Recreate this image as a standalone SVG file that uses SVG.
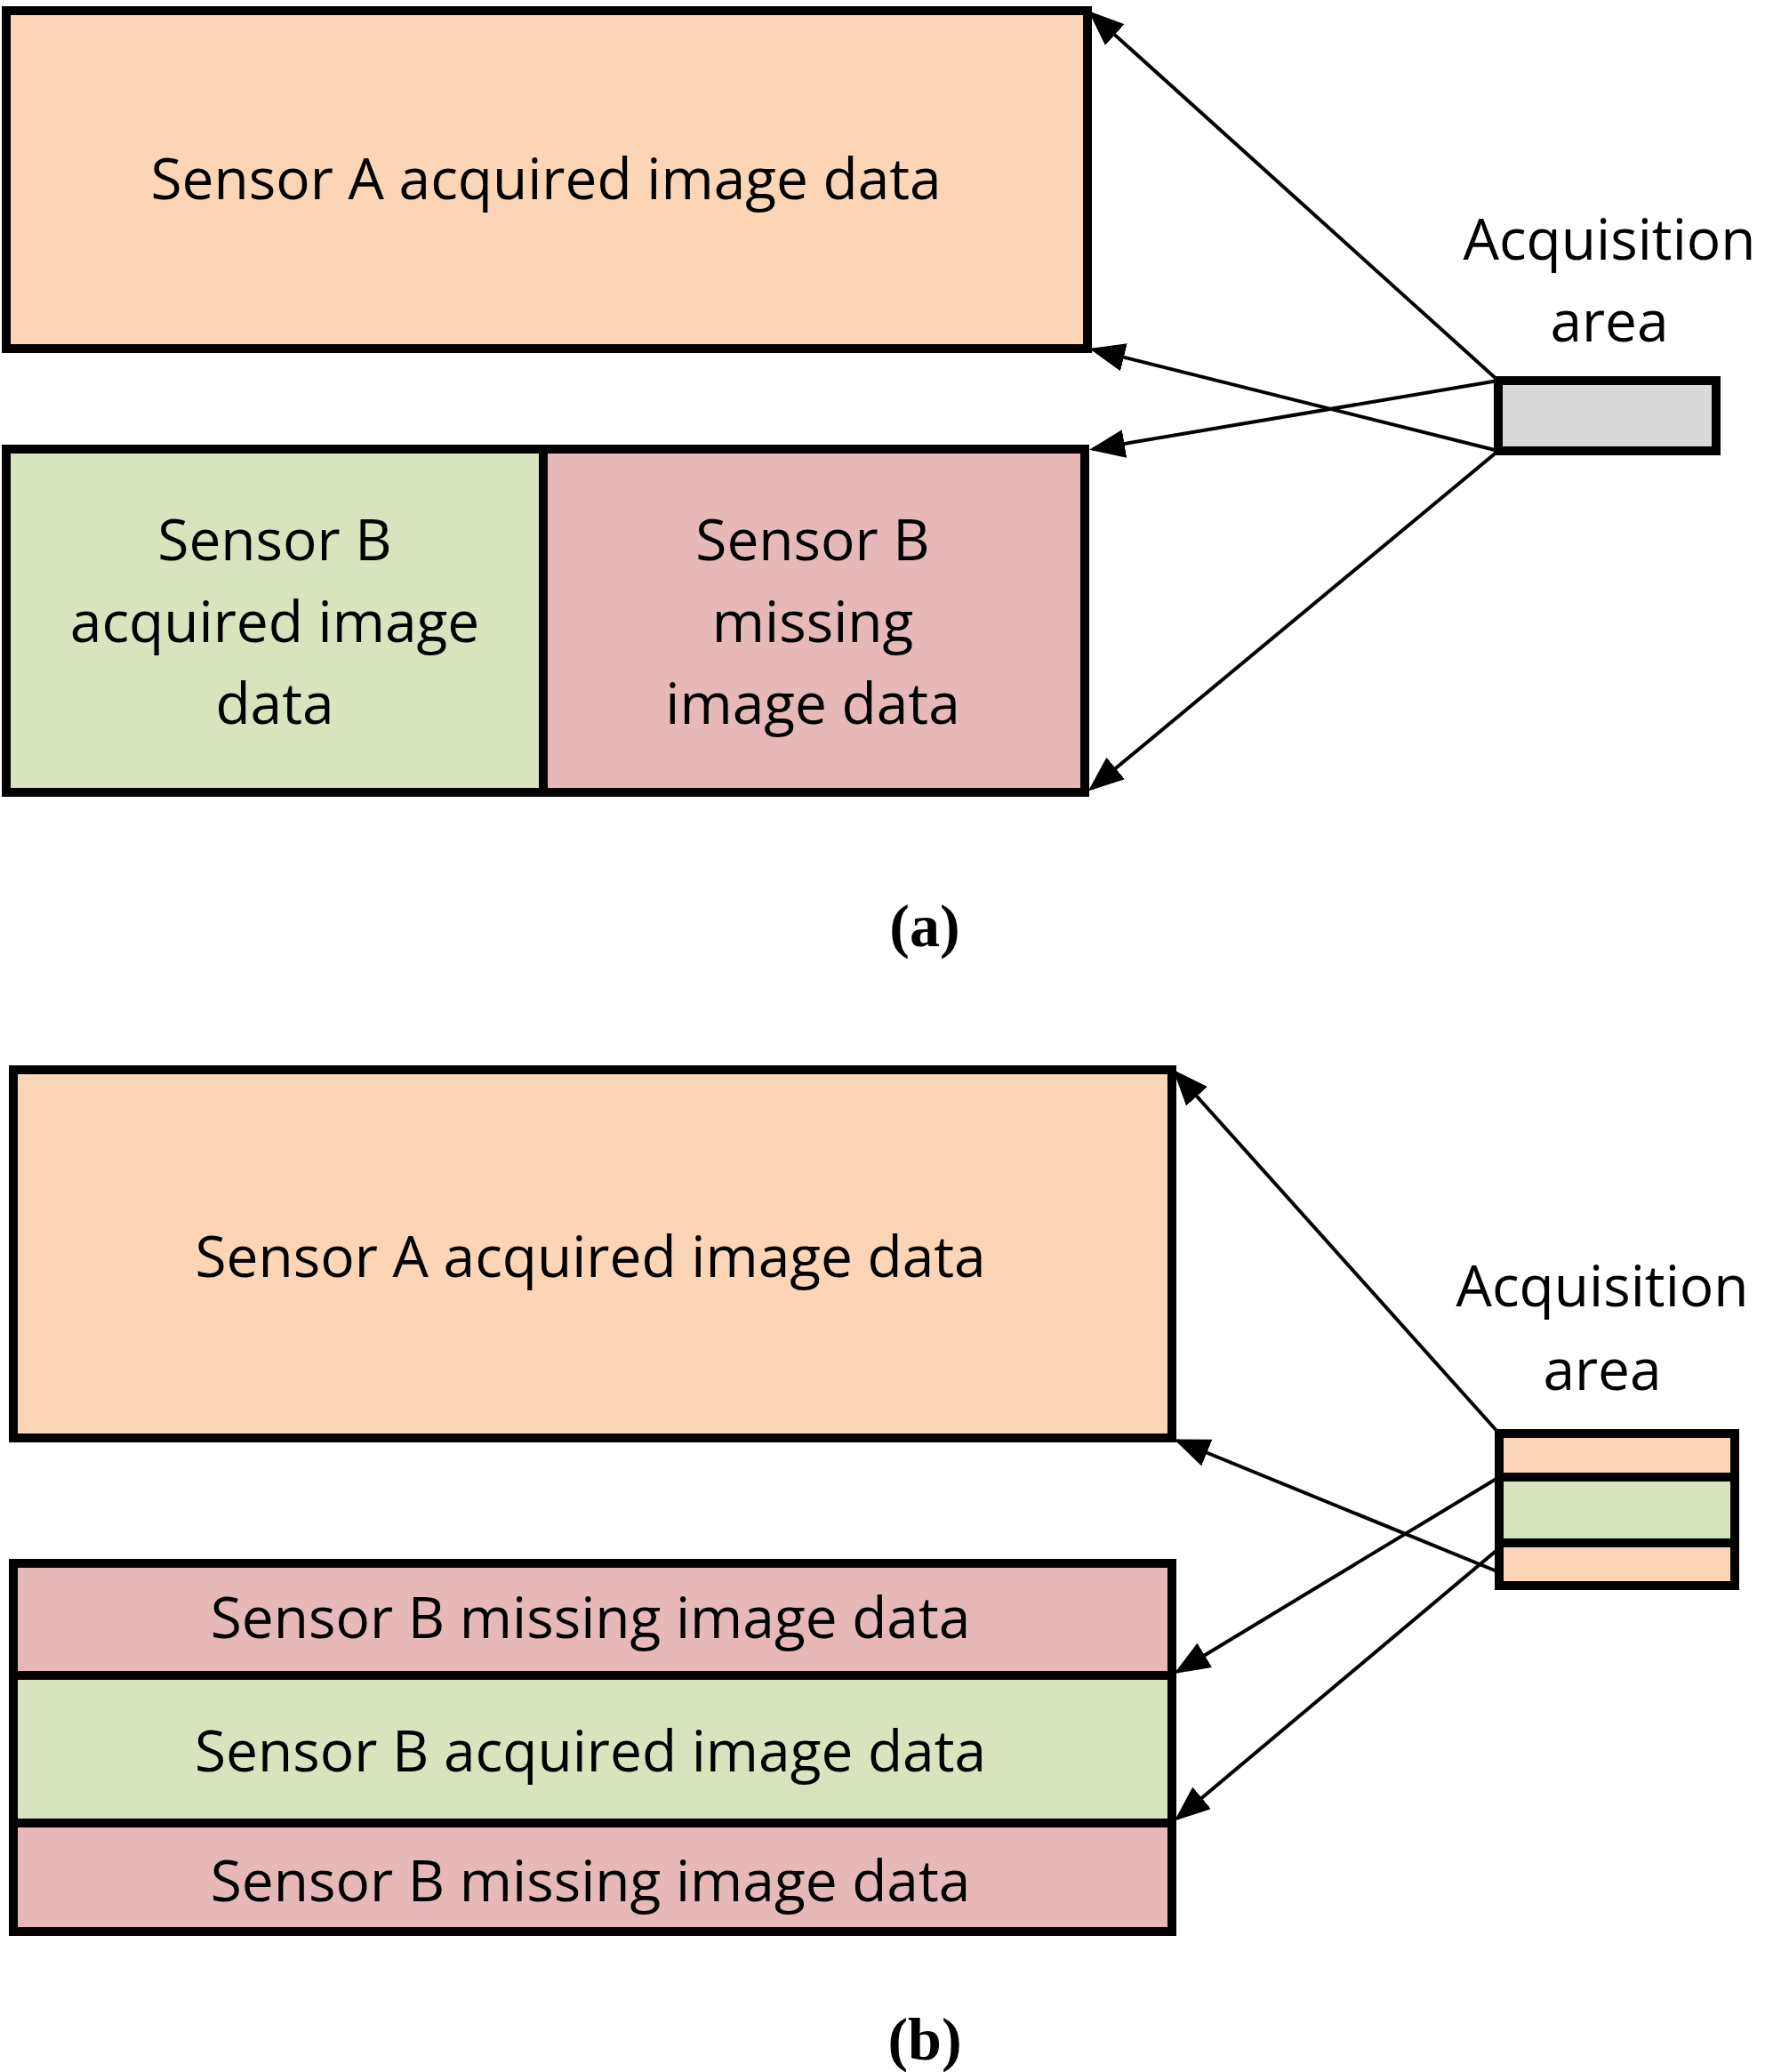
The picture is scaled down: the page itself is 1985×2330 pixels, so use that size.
<svg xmlns="http://www.w3.org/2000/svg" width="1985" height="2330" viewBox="0 0 1985 2330">
<style>
.b{stroke:#000;stroke-width:10}
.o{fill:#FBD5B5}.g{fill:#D7E4BD}.p{fill:#E6B9B8}.gr{fill:#D9D9D9}
.t{font-family:"Open Sans","Liberation Sans",sans-serif;font-size:64px;text-anchor:middle;fill:#000}
.l{font-family:"Liberation Serif",serif;font-weight:bold;font-size:68px;text-anchor:middle}
.c{stroke:#000;stroke-width:4;fill:none;marker-end:url(#ah)}
</style>
<defs><marker id="ah" markerWidth="10" markerHeight="8" refX="9" refY="4" orient="auto" markerUnits="strokeWidth"><path d="M0,0L10,4L0,8z" fill="#000"/></marker></defs>
<g id="a-sensorA"><rect class="b o" x="7" y="12" width="1216" height="380"/><text class="t" x="614" y="224">Sensor A acquired image data</text></g>
<g id="a-sensorB-acq"><rect class="b g" x="7" y="505" width="604" height="386"/><text class="t" x="309" y="630">Sensor B</text><text class="t" x="309" y="722">acquired image</text><text class="t" x="309" y="814">data</text></g>
<g id="a-sensorB-miss"><rect class="b p" x="611" y="505" width="609" height="386"/><text class="t" x="914" y="630">Sensor B</text><text class="t" x="914" y="722">missing</text><text class="t" x="914" y="814">image data</text></g>
<g id="a-acq"><rect class="b gr" x="1685" y="428" width="245" height="79"/><text class="t" x="1810" y="292">Acquisition</text><text class="t" x="1810" y="384">area</text></g>
<g id="b-sensorA"><rect class="b o" x="15" y="1203" width="1303" height="414"/><text class="t" x="664" y="1436">Sensor A acquired image data</text></g>
<g id="b-miss1"><rect class="b p" x="15" y="1758" width="1303" height="126"/><text class="t" x="664" y="1842">Sensor B missing image data</text></g>
<g id="b-acq"><rect class="b g" x="15" y="1884" width="1303" height="166"/><text class="t" x="664" y="1992">Sensor B acquired image data</text></g>
<g id="b-miss2"><rect class="b p" x="15" y="2050" width="1303" height="122"/><text class="t" x="664" y="2138">Sensor B missing image data</text></g>
<g id="b-acqarea"><rect class="b o" x="1686" y="1612" width="265" height="171"/><rect class="b g" x="1686" y="1661" width="265" height="74"/><text class="t" x="1802" y="1469">Acquisition</text><text class="t" x="1802" y="1563">area</text></g>
<g id="connectors">
<line class="c" x1="1685" y1="428" x2="1227" y2="15"/>
<line class="c" x1="1685" y1="507" x2="1229" y2="393"/>
<line class="c" x1="1685" y1="428" x2="1229" y2="505"/>
<line class="c" x1="1685" y1="507" x2="1227" y2="887"/>
<line class="c" x1="1686" y1="1612" x2="1322" y2="1206"/>
<line class="c" x1="1686" y1="1768" x2="1324" y2="1620"/>
<line class="c" x1="1686" y1="1661" x2="1324" y2="1880"/>
<line class="c" x1="1686" y1="1741" x2="1324" y2="2045"/>
</g>
<text class="l" x="1040" y="1064">(a)</text>
<text class="l" x="1040" y="2316">(b)</text>
</svg>
